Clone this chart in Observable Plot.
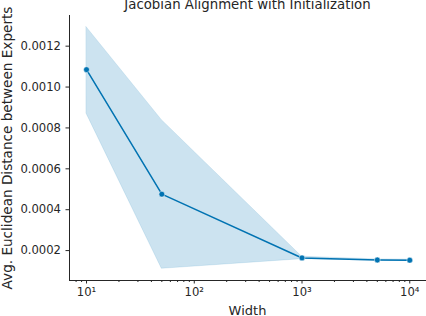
<!DOCTYPE html>
<html><head><meta charset="utf-8">
<script src="https://cdn.jsdelivr.net/npm/d3@7"></script>
<script src="https://cdn.jsdelivr.net/npm/@observablehq/plot@0.6"></script>
<style>body{margin:0;background:#fff}svg{display:block}</style>
</head><body><div id="chart"></div>
<script>
const widths = [10, 50, 1000, 5000, 10000];
const meanDist = [0.001085, 0.000476, 0.000164, 0.000154, 0.000153];
const lowerDist = [0.00087, 0.000111, 0.000158, 0.000151, 0.00015];
const upperDist = [0.001293, 0.000838, 0.00017, 0.000157, 0.000156];
const yTicks = [0.0002, 0.0004, 0.0006, 0.0008, 0.0010, 0.0012];
const xTicks = [10, 100, 1000, 10000];
const xMinorTicks = [8, 9, 20, 30, 40, 50, 60, 70, 80, 90, 200, 300, 400, 500, 600, 700, 800, 900, 2000, 3000, 4000, 5000, 6000, 7000, 8000, 9000];
const title = "Jacobian Alignment with Initialization";
const xLabel = "Width";
const yLabel = "Avg. Euclidean Distance between Experts";

const data = widths.map((w, i) => ({w, m: meanDist[i], lo: lowerDist[i], hi: upperDist[i]}));
const sup = {"0":"⁰","1":"¹","2":"²","3":"³","4":"⁴","5":"⁵","6":"⁶","7":"⁷","8":"⁸","9":"⁹"};
const color = "#0173b2";

const chart = Plot.plot({
  width: 426, height: 316,
  marginLeft: 69, marginRight: 1, marginTop: 15, marginBottom: 36,
  style: {fontFamily: "DejaVu Sans", fontSize: "11.6px", color: "#262626", background: "#fff"},
  x: {type: "log", domain: [6.95, 14000]},
  y: {domain: [0.0000537, 0.00135]},
  marks: [
    Plot.areaY(data, {x: "w", y1: "lo", y2: "hi", fill: color, fillOpacity: 0.2, stroke: color, strokeOpacity: 0.15, strokeWidth: 0.8}),
    Plot.line(data, {x: "w", y: "m", stroke: color, strokeWidth: 1.5}),
    Plot.dot(data, {x: "w", y: "m", fill: color, r: 2.9, stroke: "#fff", strokeWidth: 0.5}),
    Plot.axisY({ticks: yTicks, tickFormat: d3.format(".4f"), tickSize: 3.5, tickPadding: 5, label: null, fontSize: 11.6}),
    Plot.axisX({ticks: xTicks, tickFormat: d => "10" + String(Math.round(Math.log10(d))).split("").map(c => sup[c]).join(""), tickSize: 3.5, tickPadding: 4, label: null, fontSize: 11.6}),
    Plot.axisX({ticks: xMinorTicks, tickFormat: null, tickSize: 2, label: null, text: null}),
    Plot.frame({anchor: "left", stroke: "#262626"}),
    Plot.frame({anchor: "bottom", stroke: "#262626"}),
    Plot.text([title], {frameAnchor: "top", dy: -10.4, text: d => d, fontSize: 13.3, fill: "#262626", lineAnchor: "middle", textAnchor: "middle"}),
    Plot.text([xLabel], {frameAnchor: "bottom", dy: 30, text: d => d, fontSize: 13, fill: "#262626", lineAnchor: "middle", textAnchor: "middle"}),
    Plot.text([yLabel], {frameAnchor: "left", dx: -61.5, rotate: -90, text: d => d, fontSize: 13.6, fill: "#262626", lineAnchor: "middle", textAnchor: "middle"})
  ]
});
document.getElementById("chart").appendChild(chart);
</script></body></html>
